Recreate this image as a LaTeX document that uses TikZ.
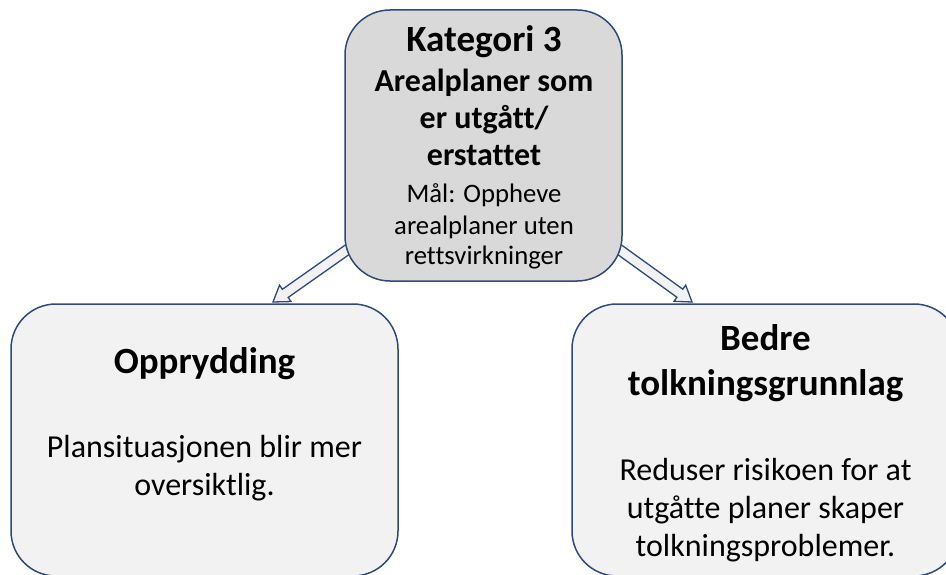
\documentclass[tikz,border=0pt]{standalone}
\usepackage{fontspec}
\setmainfont{Carlito}[Ligatures=NoCommon]
\usetikzlibrary{calc,backgrounds}
\definecolor{edgeblue}{HTML}{2F4A78}
\definecolor{topfill}{HTML}{D9D9D9}
\definecolor{lowfill}{HTML}{F2F2F2}
% hollow block arrow from #1 (tail) to #2 (tip)
\newcommand\blockarrow[2]{%
  \coordinate (#2h) at ($(#2)!15pt!(#1)$);
  \draw[blockarr]
    ($(#1)!5pt!90:(#2)$) -- ($(#2h)!5pt!90:(#2)$) -- ($(#2h)!10pt!90:(#2)$)
    -- (#2) -- ($(#2h)!10pt!-90:(#2)$) -- ($(#2h)!5pt!-90:(#2)$)
    -- ($(#1)!5pt!-90:(#2)$) -- cycle;}
\begin{document}
\begin{tikzpicture}[x=1pt,y=-1pt,
  box/.style={draw=edgeblue, line width=1.5pt, rounded corners=45pt, inner sep=0pt},
  blockarr/.style={draw=edgeblue, fill=lowfill, line width=1.3pt, line join=miter},
  txt/.style={anchor=base, inner sep=0pt, text=black},
  big/.style={txt, font=\fontsize{37}{42}\selectfont\bfseries},
  head/.style={txt, font=\fontsize{32}{37}\selectfont\bfseries},
  body/.style={txt, font=\fontsize{32}{37}\selectfont},
  small/.style={txt, font=\fontsize{26.7}{31}\selectfont}]
\useasboundingbox (0,0) rectangle (946,575);
\clip (0,0) rectangle (946,575);

% boxes
\node[box, fill=topfill, minimum width=277pt, minimum height=271pt] (cat) at (483.5,145.5) {};
\node[box, fill=lowfill, minimum width=387pt, minimum height=272pt] (left) at (204.5,440) {};
\node[box, fill=lowfill, minimum width=387pt, minimum height=272pt] (right) at (765.5,440) {};

% arrows, drawn behind the top box
\coordinate (la) at (354,245);
\coordinate (lt) at (273,302);
\coordinate (ra) at (613,245);
\coordinate (rt) at (692,302);
\begin{scope}[on background layer]
  \blockarrow{la}{lt}
  \blockarrow{ra}{rt}
\end{scope}

% top box text
\node[big]  (c1) at (484,52)  {Kategori 3};
\node[head] (c2) at (484,92)  {Arealplaner som};
\node[head] (c3) at (484,129) {er utgått/};
\node[head] (c4) at (484,166) {erstattet};
\node[small] (c5) at (484,203) {Mål: Oppheve};
\node[small] (c6) at (484,234) {arealplaner uten};
\node[small] (c7) at (484,265) {rettsvirkninger};

% left box text
\node[big]  (l1) at (204.5,373) {Opprydding};
\node[body] (l2) at (204.5,457) {Plansituasjonen blir mer};
\node[body] (l3) at (204.5,495) {oversiktlig.};

% right box text
\node[big]  (r1) at (765.5,350) {Bedre};
\node[big]  (r2) at (765.5,395) {tolkningsgrunnlag};
\node[body] (r3) at (765.5,480) {Reduser risikoen for at};
\node[body] (r4) at (765.5,518) {utgåtte planer skaper};
\node[body] (r5) at (765.5,556) {tolkningsproblemer.};
\end{tikzpicture}
\end{document}
